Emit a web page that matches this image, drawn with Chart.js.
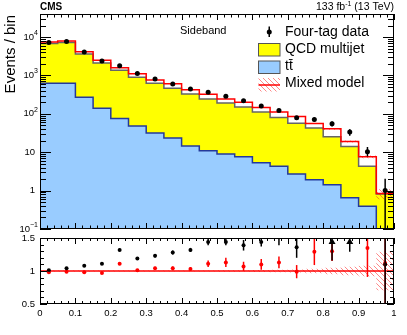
<!DOCTYPE html>
<html>
<head>
<meta charset="utf-8">
<script src="https://cdn.jsdelivr.net/npm/chart.js@4.4.1/dist/chart.umd.min.js"></script>
<style>
    body { margin: 0; background: #fff; }
    #wrap { position: relative; width: 407px; height: 335px; }
    #mainBox { position: absolute; left: 0; top: 0; width: 407px; height: 232px; }
    #ratioBox { position: absolute; left: 0; top: 232px; width: 407px; height: 103px; }
</style>
</head>
<body>
<div id="wrap">
    <div id="mainBox"><canvas id="mainChart"></canvas></div>
    <div id="ratioBox"><canvas id="ratioChart"></canvas></div>
</div>
<script>
// Bin edges in P_ZH (20 bins)
const binEdges = [0, 0.05, 0.1, 0.15, 0.2, 0.25, 0.3, 0.35, 0.4, 0.45, 0.5,
                  0.55, 0.6, 0.65, 0.7, 0.75, 0.8, 0.85, 0.9, 0.95, 1.0];
const binCenters = [0.025, 0.075, 0.125, 0.175, 0.225, 0.275, 0.325, 0.375, 0.425, 0.475,
                    0.525, 0.575, 0.625, 0.675, 0.725, 0.775, 0.825, 0.875, 0.925, 0.975];

// Background components (events / bin)
const ttbar = [627, 627, 271, 141, 75.5, 48, 31.5, 23.4, 14.5, 10.9,
               9.0, 7.6, 5.3, 4.3, 2.7, 1.93, 1.43, 0.65, 0.39, 0];
const qcdMultijet = [6230, 6650, 3350, 1970, 1290, 850, 595, 442, 316, 234,
                     184, 144, 106, 76, 54, 40.6, 23.9, 13.5, 3.9, 0.82];
const mixedModel = [7410, 7870, 4150, 2480, 1595, 1114, 764, 612, 428, 325,
                    245, 201, 146, 111, 85, 56, 40.8, 19.1, 7.6, 0.84];
// relative uncertainty of the mixed model
const mixedUnc = [0.008, 0.008, 0.008, 0.008, 0.008, 0.008, 0.008, 0.008, 0.008, 0.008,
                  0.01, 0.012, 0.015, 0.018, 0.022, 0.035, 0.05, 0.065, 0.08, 0.29];

// Four-tag data
const fourTag = [7280, 7730, 4075, 2380, 1797, 1120, 811, 601, 446, 366,
                 288, 218, 161, 122, 79, 71, 55, 33.5, 10.3, 1.0];
const fourTagErrUp = [85, 88, 64, 49, 42, 34, 29, 25, 21, 19,
                      17, 15, 13, 11, 9, 8.5, 8, 6.5, 3.4, 1.05];
const fourTagErrDown = [85, 88, 64, 49, 42, 34, 29, 25, 21, 19,
                        17, 15, 13, 11, 9, 8.5, 8, 6.7, 2.5, 1.0];

// Ratio panel
const ratioQcd = [1.01, 1.04, 1.08, 1.11, 1.32, 1.19, 1.23, 1.28, 1.32, 1.44,
                  1.44, 1.39, 1.44, 1.55, 1.36, null, null, null, null, 1.10];
const ratioQcdErr = [0.01, 0.01, 0.012, 0.015, 0.02, 0.02, 0.025, 0.03, 0.03, 0.05,
                     0.05, 0.08, 0.07, 0.16, 0.16, null, null, null, null, 1.3];
const ratioMixed = [0.98, 0.99, 0.98, 0.97, 1.11, 1.01, 1.04, 1.04, 1.03, 1.11,
                    1.13, 1.07, 1.10, 1.13, 0.99, 1.29, 1.30, null, 1.35, 1.12];
const ratioMixedErr = [0.01, 0.01, 0.012, 0.015, 0.02, 0.02, 0.025, 0.03, 0.03, 0.05,
                       0.07, 0.07, 0.08, 0.09, 0.1, 0.2, 0.15, null, 0.44, 1.2];
// off-scale data / QCD points shown as arrows
const arrowX = [0.825, 0.875];
const arrowFrom = [1.16, 1.29];

const FONT = "'Liberation Sans', Arial, Helvetica, sans-serif";
const LOG_FLOOR = 0.01;
const YELLOW = '#ffff00';
const BLUE = '#99ccff';

// Build stepped histogram points (left edges + closing point)
function stepPoints(vals) {
    const pts = vals.map((v, i) => ({ x: binEdges[i], y: v }));
    pts.push({ x: binEdges[vals.length], y: vals[vals.length - 1] });
    return pts;
}

function hatchPattern() {
    const c = document.createElement('canvas');
    c.width = 5; c.height = 5;
    const g = c.getContext('2d');
    g.strokeStyle = 'rgba(255, 40, 40, 0.55)';
    g.lineWidth = 1;
    g.beginPath();
    g.moveTo(-1, -1); g.lineTo(6, 6);
    g.moveTo(-1, 4); g.lineTo(1, 6);
    g.moveTo(4, -1); g.lineTo(6, 1);
    g.stroke();
    return g.createPattern(c, 'repeat');
}
const hatch = hatchPattern();

const stackTotal = qcdMultijet.map((v, i) => v + ttbar[i]);
const ttbarShown = ttbar.map(v => Math.max(v, LOG_FLOOR));
const mixedUp = mixedModel.map((v, i) => v * (1 + mixedUnc[i]));
const mixedDown = mixedModel.map((v, i) => v * (1 - mixedUnc[i]));

// Draw vertical error bars for datasets carrying errUp / errDown
const errorBars = {
    id: 'errorBars',
    afterDatasetsDraw(chart) {
        const ctx = chart.ctx, a = chart.chartArea;
        const xs = chart.scales.x, ys = chart.scales.y;
        ctx.save();
        ctx.beginPath();
        ctx.rect(a.left, a.top, a.right - a.left, a.bottom - a.top);
        ctx.clip();
        chart.data.datasets.forEach(ds => {
            if (!ds.errUp) return;
            ctx.strokeStyle = ds.borderColor;
            ctx.lineWidth = 1.5;
            ds.data.forEach((p, i) => {
                if (p.y == null || ds.errUp[i] == null) return;
                const x = xs.getPixelForValue(p.x);
                const lo = p.y - ds.errDown[i];
                const y1 = ys.getPixelForValue(p.y + ds.errUp[i]);
                const y2 = ys.type === 'logarithmic' && lo <= 0 ? a.bottom + 5 : ys.getPixelForValue(lo);
                ctx.beginPath();
                ctx.moveTo(x, y1);
                ctx.lineTo(x, y2);
                ctx.stroke();
            });
        });
        ctx.restore();
    }
};

function line(ctx, x1, y1, x2, y2) {
    ctx.beginPath();
    ctx.moveTo(x1, y1);
    ctx.lineTo(x2, y2);
    ctx.stroke();
}

function drawXTicks(ctx, xs, a, majorLen, minorLen) {
    for (let k = 0; k <= 50; k++) {
        const x = Math.round(xs.getPixelForValue(k * 0.02)) + 0.5;
        const len = k % 5 === 0 ? majorLen : minorLen;
        line(ctx, x, a.bottom, x, a.bottom - len);
        line(ctx, x, a.top, x, a.top + len);
    }
}

function drawFrame(ctx, a) {
    ctx.strokeStyle = '#000';
    ctx.lineWidth = 1;
    ctx.strokeRect(Math.round(a.left) + 0.5, Math.round(a.top) + 0.5,
                   Math.round(a.right - a.left) - 1, Math.round(a.bottom - a.top) - 1);
}

function drawRotated(ctx, text, x, y, size) {
    ctx.save();
    ctx.translate(x, y);
    ctx.rotate(-Math.PI / 2);
    ctx.font = size + 'px ' + FONT;
    ctx.textAlign = 'right';
    ctx.textBaseline = 'alphabetic';
    ctx.fillText(text, 0, 0);
    ctx.restore();
}

// Power-of-ten label, right aligned at x
function drawPow(ctx, exp, x, y) {
    ctx.textBaseline = 'middle';
    ctx.textAlign = 'right';
    if (exp === 0 || exp === 1) {
        ctx.font = '9.5px ' + FONT;
        ctx.fillText(exp === 0 ? '1' : '10', x - 1, y);
        return;
    }
    const sup = exp < 0 ? '\u2212' + (-exp) : String(exp);
    ctx.font = '7px ' + FONT;
    const w = ctx.measureText(sup).width;
    ctx.fillText(sup, x + 2, y - 4);
    ctx.font = '9.5px ' + FONT;
    ctx.fillText('10', x + 2 - w, y);
}

const mainDecor = {
    id: 'mainDecor',
    afterDraw(chart) {
        const ctx = chart.ctx, a = chart.chartArea;
        const xs = chart.scales.x, ys = chart.scales.y;
        ctx.save();
        drawFrame(ctx, a);
        drawXTicks(ctx, xs, a, 6, 3.5);
        // log ticks on both sides
        for (let d = -1; d <= 4; d++) {
            for (let m = 1; m <= 9; m++) {
                const v = m * Math.pow(10, d);
                if (v > ys.max) break;
                const y = Math.round(ys.getPixelForValue(v)) + 0.5;
                const len = m === 1 ? 11 : 6;
                line(ctx, a.left, y, a.left + len, y);
                line(ctx, a.right, y, a.right - len, y);
            }
            ctx.fillStyle = '#000';
            drawPow(ctx, d, 36, ys.getPixelForValue(Math.pow(10, d)));
        }
        drawRotated(ctx, 'Events / bin', 15, 15, 15);

        ctx.fillStyle = '#000';
        ctx.textBaseline = 'alphabetic';
        ctx.textAlign = 'left';
        ctx.font = 'bold 10px ' + FONT;
        ctx.fillText('CMS', 40, 10);
        // luminosity label
        ctx.font = '10.5px ' + FONT;
        const tail = ' (13 TeV)';
        const wTail = ctx.measureText(tail).width;
        ctx.textAlign = 'right';
        ctx.fillText(tail, 394, 10);
        ctx.font = '7px ' + FONT;
        const wSup = ctx.measureText('-1').width;
        ctx.fillText('-1', 394 - wTail, 6);
        ctx.font = '10.5px ' + FONT;
        ctx.fillText('133 fb', 394 - wTail - wSup, 10);

        ctx.textAlign = 'left';
        ctx.font = '11px ' + FONT;
        ctx.fillText('Sideband', 180, 34);

        // legend
        const lx = 258.5, lw = 21.5, tx = 285;
        ctx.font = '14px ' + FONT;
        ctx.textBaseline = 'middle';
        ctx.strokeStyle = '#000';
        ctx.lineWidth = 1.5;
        line(ctx, lx + lw / 2, 26.5, lx + lw / 2, 37);
        ctx.beginPath();
        ctx.arc(lx + lw / 2, 32, 2.5, 0, Math.PI * 2);
        ctx.fill();
        ctx.fillText('Four-tag data', tx, 32);

        ctx.lineWidth = 1;
        ctx.strokeStyle = '#555';
        ctx.fillStyle = YELLOW;
        ctx.fillRect(lx, 43.5, lw, 12.5);
        ctx.strokeRect(lx, 43.5, lw, 12.5);
        ctx.fillStyle = BLUE;
        ctx.fillRect(lx, 61, lw, 12.5);
        ctx.strokeRect(lx, 61, lw, 12.5);
        ctx.fillStyle = hatch;
        ctx.fillRect(lx, 78, lw, 13.5);
        ctx.strokeStyle = '#ff0000';
        ctx.lineWidth = 1.5;
        line(ctx, lx, 85, lx + lw, 85);

        ctx.fillStyle = '#000';
        ctx.fillText('QCD multijet', tx, 49);
        ctx.fillText('t t\u0304'.replace(' ', ''), tx, 66.5);
        ctx.fillText('Mixed model', tx, 83);
        ctx.restore();
    }
};

const ratioDecor = {
    id: 'ratioDecor',
    afterDraw(chart) {
        const ctx = chart.ctx, a = chart.chartArea;
        const xs = chart.scales.x, ys = chart.scales.y;
        ctx.save();
        // arrows for off-scale data / QCD points
        ctx.strokeStyle = '#000';
        ctx.fillStyle = '#000';
        ctx.lineWidth = 1.5;
        arrowX.forEach((v, i) => {
            const x = xs.getPixelForValue(v);
            const yTop = ys.getPixelForValue(ys.max);
            line(ctx, x, ys.getPixelForValue(arrowFrom[i]), x, yTop + 4);
            ctx.beginPath();
            ctx.moveTo(x, yTop);
            ctx.lineTo(x - 3.5, yTop + 6);
            ctx.lineTo(x + 3.5, yTop + 6);
            ctx.closePath();
            ctx.fill();
        });

        ctx.lineWidth = 1;
        drawFrame(ctx, a);
        drawXTicks(ctx, xs, a, 6, 3);
        for (let k = 5; k <= 15; k++) {
            const y = Math.round(ys.getPixelForValue(k / 10)) + 0.5;
            const len = k % 5 === 0 ? 7 : 4;
            line(ctx, a.left, y, a.left + len, y);
            line(ctx, a.right, y, a.right - len, y);
        }
        ctx.fillStyle = '#000';
        ctx.font = '9.5px ' + FONT;
        ctx.textAlign = 'right';
        ctx.textBaseline = 'middle';
        [0.5, 1, 1.5].forEach(v => ctx.fillText(String(v), 35, ys.getPixelForValue(v)));

        drawRotated(ctx, 'Data / model', 16.5, 238, 15);

        // x axis title P_ZH
        ctx.textAlign = 'right';
        ctx.textBaseline = 'alphabetic';
        ctx.font = '11px ' + FONT;
        const wSub = ctx.measureText('ZH').width;
        ctx.fillText('ZH', 395, 333);
        ctx.font = '14px ' + FONT;
        ctx.fillText('P', 395 - wSub, 330);

        // ratio legend
        ctx.textAlign = 'left';
        ctx.textBaseline = 'middle';
        ctx.font = '8.5px ' + FONT;
        const ly = 290;
        [[58.5, '#000', 'Data / QCD multijet'], [153.5, '#ff0000', 'Data / mixed']].forEach(e => {
            ctx.strokeStyle = e[1];
            ctx.fillStyle = e[1];
            ctx.lineWidth = 1.5;
            line(ctx, e[0], ly - 5, e[0], ly + 5);
            ctx.beginPath();
            ctx.arc(e[0], ly, 2, 0, Math.PI * 2);
            ctx.fill();
            ctx.fillStyle = '#000';
            ctx.fillText(e[2], e[0] + 10, ly);
        });
        ctx.restore();
    }
};

const stepStyle = { stepped: true, pointRadius: 0, tension: 0 };

new Chart(document.getElementById('mainChart'), {
    type: 'line',
    data: {
        datasets: [
            { label: 'QCD multijet', data: stepPoints(stackTotal), ...stepStyle,
              borderColor: '#666', borderWidth: 1.5, backgroundColor: YELLOW, fill: 'start', order: 5 },
            { label: 'ttbar', data: stepPoints(ttbarShown), ...stepStyle,
              borderColor: '#24399a', borderWidth: 1.5, backgroundColor: BLUE, fill: 'start', order: 4 },
            { label: 'mixed up', data: stepPoints(mixedUp), ...stepStyle,
              borderWidth: 0, borderColor: 'rgba(0,0,0,0)', backgroundColor: hatch, fill: '+1', order: 3 },
            { label: 'mixed down', data: stepPoints(mixedDown), ...stepStyle,
              borderWidth: 0, borderColor: 'rgba(0,0,0,0)', fill: false, order: 3 },
            { label: 'Mixed model', data: stepPoints(mixedModel), ...stepStyle,
              borderColor: '#ff0000', borderWidth: 1.5, fill: false, order: 2 },
            { label: 'Four-tag data', data: fourTag.map((v, i) => ({ x: binCenters[i], y: v })),
              showLine: false, pointRadius: 2.5, pointBackgroundColor: '#000', borderColor: '#000',
              pointBorderWidth: 0, errUp: fourTagErrUp, errDown: fourTagErrDown, order: 1 }
        ]
    },
    options: {
        responsive: true,
        maintainAspectRatio: false,
        animation: false,
        layout: { autoPadding: false, padding: { top: 14, right: 13, bottom: 3, left: 0 } },
        plugins: { legend: { display: false }, tooltip: { enabled: false } },
        scales: {
            x: { type: 'linear', min: 0, max: 1, display: false },
            y: {
                type: 'logarithmic', min: 0.1, max: 40000,
                grid: { display: false }, border: { display: false },
                ticks: { display: false },
                afterFit: s => { s.width = 40; }
            }
        }
    },
    plugins: [errorBars, mainDecor]
});

const ratioBandUp = mixedUnc.map(u => 1 + u);
const ratioBandDown = mixedUnc.map(u => 1 - u);

new Chart(document.getElementById('ratioChart'), {
    type: 'line',
    data: {
        datasets: [
            { label: 'unc up', data: stepPoints(ratioBandUp), ...stepStyle,
              borderWidth: 0, borderColor: 'rgba(0,0,0,0)', backgroundColor: hatch, fill: '+1', order: 5 },
            { label: 'unc down', data: stepPoints(ratioBandDown), ...stepStyle,
              borderWidth: 0, borderColor: 'rgba(0,0,0,0)', fill: false, order: 5 },
            { label: 'unity', data: [{ x: 0, y: 1 }, { x: 1, y: 1 }], pointRadius: 0,
              borderColor: '#ff0000', borderWidth: 1.5, fill: false, order: 4 },
            { label: 'Data / mixed', data: ratioMixed.map((v, i) => ({ x: binCenters[i], y: v })),
              showLine: false, pointRadius: 2, pointBackgroundColor: '#ff0000', borderColor: '#ff0000',
              pointBorderWidth: 0, errUp: ratioMixedErr, errDown: ratioMixedErr, order: 3 },
            { label: 'Data / QCD multijet', data: ratioQcd.map((v, i) => ({ x: binCenters[i], y: v })),
              showLine: false, pointRadius: 2, pointBackgroundColor: '#000', borderColor: '#000',
              pointBorderWidth: 0, errUp: ratioQcdErr, errDown: ratioQcdErr, order: 2 }
        ]
    },
    options: {
        responsive: true,
        maintainAspectRatio: false,
        animation: false,
        layout: { autoPadding: false, padding: { top: 6, right: 13, bottom: 0, left: 0 } },
        plugins: { legend: { display: false }, tooltip: { enabled: false } },
        scales: {
            x: {
                type: 'linear', min: 0, max: 1,
                grid: { display: false, drawTicks: false }, border: { display: false },
                ticks: {
                    stepSize: 0.1, maxRotation: 0, autoSkip: false, padding: 4,
                    color: '#000', font: { family: FONT, size: 9.5 },
                    callback: v => String(+v.toFixed(1))
                },
                afterFit: s => { s.height = 31; }
            },
            y: {
                type: 'linear', min: 0.5, max: 1.5,
                grid: { display: false }, border: { display: false },
                ticks: { display: false },
                afterFit: s => { s.width = 40; }
            }
        }
    },
    plugins: [errorBars, ratioDecor]
});
</script>
</body>
</html>
